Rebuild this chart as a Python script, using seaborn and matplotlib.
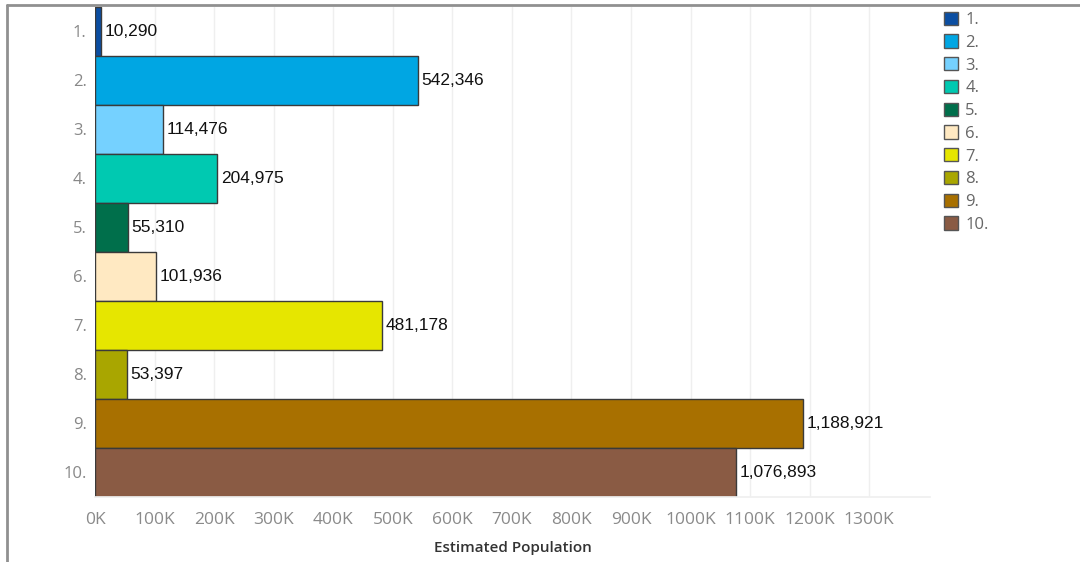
import matplotlib
matplotlib.use("Agg")
import matplotlib.pyplot as plt
from matplotlib.patches import Patch
from matplotlib.ticker import FuncFormatter, FixedLocator
import seaborn as sns
import pandas as pd

# Data
categories = ["1.", "2.", "3.", "4.", "5.", "6.", "7.", "8.", "9.", "10."]
population = [10290, 542346, 114476, 204975, 55310, 101936, 481178, 53397, 1188921, 1076893]
colors = ["#0b4ea2", "#00a6e3", "#75d1ff", "#00c9b1", "#006f4b",
          "#ffe9c2", "#e6e600", "#a9a600", "#a87000", "#8a5b44"]
x_ticks = [i * 100000 for i in range(14)]

df = pd.DataFrame({"Category": categories, "Estimated Population": population})

sns.set_theme(style="white")
plt.rcParams["font.family"] = ["Open Sans", "DejaVu Sans"]

fig = plt.figure(figsize=(10.8, 5.62), dpi=100)
W, H = 1080, 562
ax = fig.add_axes([95 / W, 1 - 497 / H, (930 - 95) / W, (497 - 7) / H])

sns.barplot(data=df, y="Category", x="Estimated Population", hue="Category",
            palette=colors, order=categories, hue_order=categories,
            width=1.0, dodge=False, legend=False, ax=ax,
            edgecolor="#3a3a3a", linewidth=1.0, saturation=1)

ax.set_xlim(0, 1402000)
ax.set_ylim(9.5, -0.5)
ax.xaxis.set_major_locator(FixedLocator(x_ticks))
ax.xaxis.set_major_formatter(FuncFormatter(lambda v, p: f"{int(round(v / 1000))}K"))
ax.grid(axis="x", color="#efefef", linewidth=1)
ax.set_axisbelow(True)
for s in ["top", "right", "left"]:
    ax.spines[s].set_visible(False)
ax.spines["bottom"].set_color("#f0f0f0")
ax.tick_params(axis="x", color="#eeeeee", labelsize=12.5, length=6, width=1,
               direction="out", pad=5, labelcolor="#8a8a8a")
ax.tick_params(axis="y", length=0, labelsize=12, labelcolor="#888888", pad=6)
ax.set_ylabel("")
ax.set_xlabel("Estimated Population", fontsize=11, color="#333333",
              fontweight="semibold", labelpad=9)

# Value labels at bar ends
for i, v in enumerate(population):
    ax.text(v + 6000, i, f"{v:,}", va="center", ha="left", fontsize=12.5,
            color="#111111", family=["Liberation Sans", "DejaVu Sans"])

# Legend
handles = [Patch(facecolor=c, edgecolor="#555555", linewidth=1) for c in colors]
leg = fig.legend(handles, categories, loc="upper left",
                 bbox_to_anchor=(937 / W, 1 - 5 / H), frameon=False,
                 fontsize=12, handlelength=0.85, handleheight=0.85,
                 handletextpad=0.45, labelspacing=0.38, borderaxespad=0)
for t in leg.get_texts():
    t.set_color("#666666")

# Outer frame lines (top and left)
fig.add_artist(plt.Line2D([7 / W, 1], [1 - 5 / H, 1 - 5 / H], color="#909090",
                          linewidth=2, transform=fig.transFigure))
fig.add_artist(plt.Line2D([7 / W, 7 / W], [0, 1 - 5 / H], color="#909090",
                          linewidth=2, transform=fig.transFigure))

fig.savefig("out.png", dpi=100)
